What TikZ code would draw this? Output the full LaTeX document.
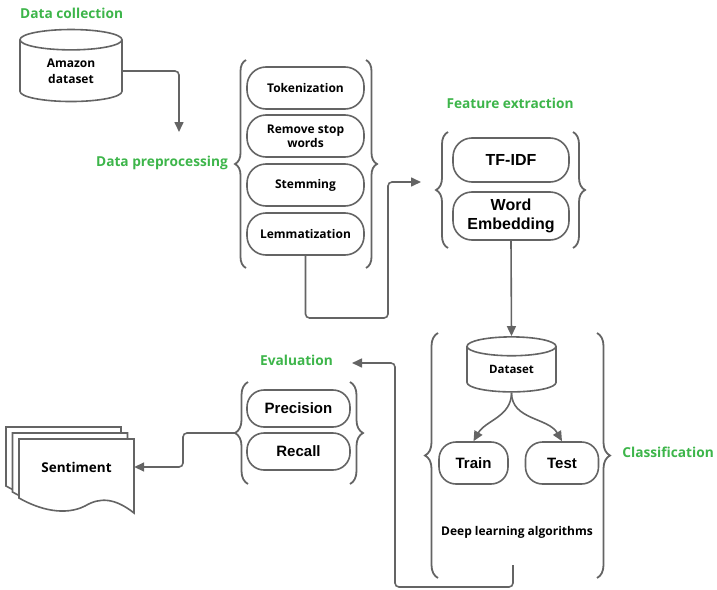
\documentclass[tikz,border=0pt]{standalone}
\usepackage{fontspec}
\setmainfont{Open Sans}
\newfontfamily\arialfont{Liberation Sans}
\usetikzlibrary{shapes.geometric,decorations.pathreplacing,arrows.meta,positioning}
\definecolor{phasegreen}{RGB}{61,181,74}
\definecolor{linegray}{RGB}{100,100,100}
\tikzset{
  phase/.style={text=phasegreen, font=\bfseries\fontsize{13.7}{15}\selectfont, inner sep=0pt},
  pill/.style={draw=linegray, line width=1.6pt, rounded corners=19pt, minimum width=117pt,
    minimum height=42pt, align=center, inner sep=0pt, font=\bfseries\fontsize{12}{14}\selectfont},
  pillA/.style={pill, font=\arialfont\bfseries\fontsize{15}{18}\selectfont},
  db/.style={cylinder, shape border rotate=90, draw=linegray, line width=1.6pt, aspect=0.42,
    align=center, inner sep=0pt, font=\bfseries\fontsize{12}{16}\selectfont},
  brc/.style={decorate, decoration={brace, amplitude=#1}, draw=linegray, line width=1.8pt},
  arr/.style={draw=linegray, line width=1.6pt, rounded corners=4pt, -{Triangle[length=10pt,width=9pt]}},
  docline/.style={draw=linegray, line width=1.6pt, fill=white},
}
\begin{document}
\begin{tikzpicture}[x=1pt,y=-1pt]
\useasboundingbox (0,0) rectangle (717,589);

% data collection
\node[phase, anchor=west] (lcoll) at (20,13) {Data collection};
\node[db, minimum width=102pt, minimum height=72pt] (amz) at (71,71) {Amazon\\dataset};

% data preprocessing
\node[phase, anchor=east] (lpre) at (228,163) {Data preprocessing};
\node[pill] (tok) at (305.5,88) {Tokenization};
\node[pill] (rsw) at (305.5,136) {Remove stop\\words};
\node[pill] (stem) at (305.5,185) {Stemming};
\node[pill] (lem) at (305.5,234) {Lemmatization};
\draw[brc=11pt] (246,268) -- (246,60);
\draw[brc=11pt] (366,60) -- (366,268);
\coordinate (preIn) at (179,132);
\draw[arr] (amz.east) -| (preIn);

% feature extraction
\node[phase] (lfeat) at (510,103) {Feature extraction};
\node[pillA, minimum width=116pt, minimum height=44pt, font=\arialfont\bfseries\fontsize{16}{19}\selectfont] (tfidf) at (511,160) {TF-IDF};
\node[pillA, minimum width=116pt, minimum height=48pt, font=\arialfont\bfseries\fontsize{16}{19}\selectfont] (wemb) at (511,216) {Word\\Embedding};
\draw[brc=12pt] (448,248) -- (448,132);
\draw[brc=12pt] (573,132) -- (573,248);
\coordinate (featIn) at (421,182);
\draw[arr] (lem.south) |- (388,318) |- (featIn);

% classification
\node[db, minimum width=89pt, minimum height=55pt, font=\bfseries\fontsize{11.5}{14}\selectfont] (ds) at (511.5,369.5) {Dataset};
\node[pillA, minimum width=69pt, rounded corners=17pt] (train) at (473.5,463) {Train};
\node[pillA, minimum width=73pt, rounded corners=17pt] (test) at (562,463) {Test};
\node[font=\bfseries\fontsize{12}{14}\selectfont] (dla) at (517,532) {Deep learning algorithms};
\node[phase, anchor=east] (lcls) at (714,452) {Classification};
\draw[brc=13pt] (438,578) -- (438,333);
\draw[brc=13pt] (597,333) -- (597,578);
\draw[arr] (wemb.south) -- (ds.north);
\draw[arr] (ds.south) to[out=-90,in=60] (train.north);
\draw[arr] (ds.south) to[out=-90,in=120] (test.north);

% evaluation
\node[phase] (leval) at (296.5,360) {Evaluation};
\node[pillA, minimum width=103pt, minimum height=37pt, rounded corners=17pt] (prec) at (298.5,408.5) {Precision};
\node[pillA, minimum width=103pt, minimum height=37pt, rounded corners=17pt] (rec) at (298.5,451.5) {Recall};
\draw[brc=13pt] (248,484) -- (248,382);
\draw[brc=13pt] (350,382) -- (350,484);
\coordinate (clsOut) at (513,565);
\coordinate (evalIn) at (352,363);
\draw[arr] (clsOut) |- (395,587) |- (evalIn);

% sentiment documents
\foreach \dx/\dy in {-13/-12,-6.5/-6,0/0}
  \draw[docline, shift={(\dx,\dy)}] (19,439) -- (134,439) -- (134,513)
    .. controls (115,498) and (100,497) .. (85,506)
    .. controls (65,516) and (40,510) .. (19,498) -- cycle;
\node[minimum width=115pt, inner sep=0pt, font=\bfseries\fontsize{13.5}{16}\selectfont] (sent) at (76.5,467) {Sentiment};
\coordinate (evalOut) at (235,433);
\draw[arr] (evalOut) -- ++(-52,0) |- (sent.east);
\end{tikzpicture}
\end{document}
